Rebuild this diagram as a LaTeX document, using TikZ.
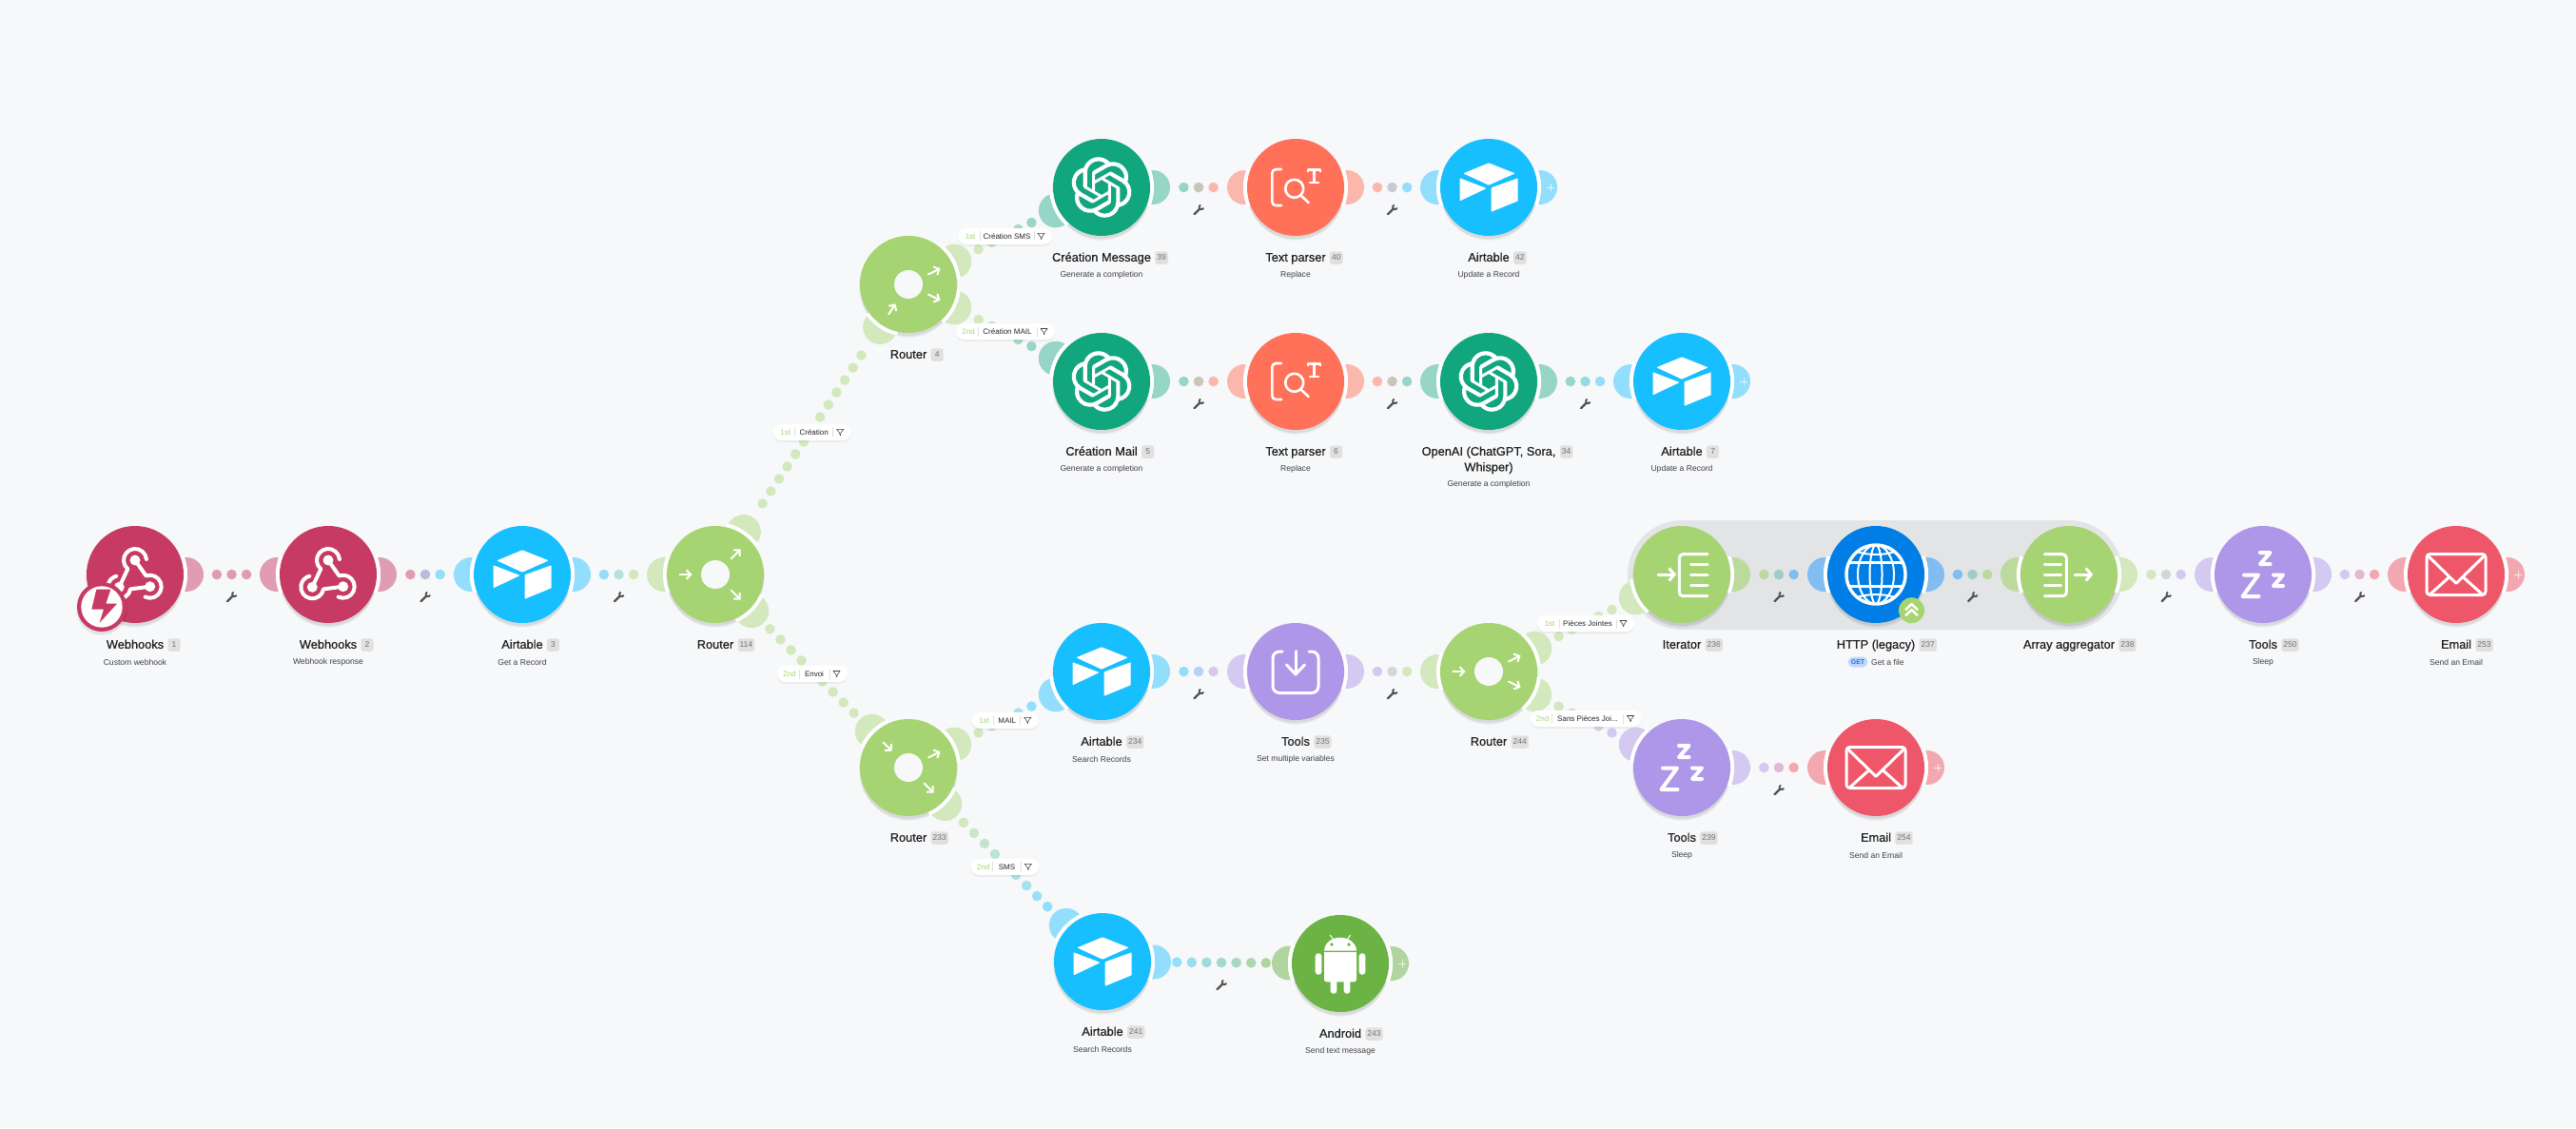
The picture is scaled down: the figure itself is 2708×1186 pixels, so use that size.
\documentclass[tikz,border=0pt]{standalone}
\usepackage{fontspec}
\setmainfont{Liberation Sans}
\newfontfamily\ttlfont[FakeBold=0.5]{Liberation Sans}
\usetikzlibrary{calc,arrows.meta,svg.path}
\definecolor{bgc}{HTML}{F7F8FA}
\definecolor{band}{HTML}{E2E4E6}
\definecolor{cWeb}{HTML}{C73A63}
\definecolor{cAir}{HTML}{18BFFF}
\definecolor{cFlow}{HTML}{A6D472}
\definecolor{cGpt}{HTML}{12A67F}
\definecolor{cPar}{HTML}{FF7158}
\definecolor{cTool}{HTML}{AE96E8}
\definecolor{cMail}{HTML}{EE5769}
\definecolor{cHttp}{HTML}{007EE5}
\definecolor{cDroid}{HTML}{6AB344}
\colorlet{lWeb}{cWeb!48!bgc}
\colorlet{lAir}{cAir!45!bgc}
\colorlet{lFlow}{cFlow!45!bgc}
\colorlet{bFlow}{cFlow!62!band}
\colorlet{lGpt}{cGpt!42!bgc}
\colorlet{lPar}{cPar!48!bgc}
\colorlet{lTool}{cTool!48!bgc}
\colorlet{lMail}{cMail!50!bgc}
\colorlet{lHttp}{cHttp!48!bgc}
\colorlet{lDroid}{cDroid!50!bgc}
\tikzset{
  modnode/.style={circle,minimum size=102pt,inner sep=0pt},
  ttlstyle/.style={inner sep=0pt,text height=9.5pt,text depth=2.7pt,text=black!88,font=\ttlfont\fontsize{12.8}{15}\selectfont},
  substyle/.style={inner sep=0pt,text=black!75,font=\fontsize{8.6}{10}\selectfont},
  bdg/.style={anchor=west,fill=black!12,text=black!55,rounded corners=2.5pt,minimum height=13.5pt,minimum width=13pt,inner xsep=2pt,inner ysep=0pt,font=\fontsize{8.5}{10}\selectfont},
  pill/.style={fill=white,rounded corners=8.5pt,minimum height=17pt,inner sep=0pt},
  ordtxt/.style={inner sep=0pt,text=cFlow,font=\fontsize{8}{10}\selectfont},
  flttxt/.style={inner sep=0pt,text=black!85,font=\fontsize{8}{10}\selectfont},
  sepline/.style={black!12,line width=.6pt},
  ico/.style={white,line width=3pt,line cap=round,line join=round},
  rarrow/.style={white,line width=2pt,line cap=round,-{Straight Barb[length=4.5pt,width=9.5pt,line width=2pt]}},
  iarrow/.style={white,line width=3pt,line cap=round,-{Straight Barb[length=5.5pt,width=13pt,line width=3pt]}},
}
% ---------- icons, in coordinates local to the module centre
\newcommand\icWeb{%
  \draw[ico,line width=4pt] (-16.7,13.3) -- ($(0,-15)+(130:12)$) arc[start angle=130,end angle=355,radius=12];
  \draw[ico,line width=4pt] (0,-15) -- ($(15.7,12.7)+(250:12)$) arc[start angle=250,end angle=475,radius=12];
  \draw[ico,line width=4pt] (15.7,12.7) -- ($(-16.7,13.3)+(10:12)$) arc[start angle=10,end angle=255,radius=12];
  \fill[white] (0,-15) circle (5.5) (15.7,12.7) circle (5.5) (-16.7,13.3) circle (5.5);}
\newcommand\icAir{%
  \fill[white,rounded corners=.8pt] (-26.7,-14.7) -- (0,-25.7) -- (27.7,-14.7) -- (0,-2.3) -- cycle;
  \fill[white,rounded corners=.6pt] (-30.3,-9.7) -- (-2.3,1) -- (-30.3,14.3) -- cycle;
  \fill[white,rounded corners=.6pt] (2.7,.3) -- (30.7,-9.7) -- (30.7,14.3) -- (2.7,25.7) -- cycle;}
\newcommand\icGpt{%
  \begin{scope}[scale=2.65,shift={(-12,-12)}]
  \fill[white,even odd rule] svg "M 22.2819 9.8211 a 5.9847 5.9847 0 0 0 -.5157 -4.9108 a 6.0462 6.0462 0 0 0 -6.5098 -2.9 A 6.0651 6.0651 0 0 0 4.9807 4.1818 a 5.9847 5.9847 0 0 0 -3.9977 2.9 a 6.0462 6.0462 0 0 0 .7427 7.0966 a 5.98 5.98 0 0 0 .511 4.9107 a 6.051 6.051 0 0 0 6.5146 2.9001 A 5.9847 5.9847 0 0 0 13.2599 24 a 6.0557 6.0557 0 0 0 5.7718 -4.2058 a 5.9894 5.9894 0 0 0 3.9977 -2.9001 a 6.0557 6.0557 0 0 0 -.7475 -7.0729 z M 13.2599 22.4292 a 4.4755 4.4755 0 0 1 -2.8764 -1.0408 l .1419 -.0804 l 4.7783 -2.7582 l .3927 -.6813 v -6.7369 l 2.02 1.1686 l .038 .052 v 5.5826 a 4.504 4.504 0 0 1 -4.4945 4.4944 z M 3.5992 18.3038 a 4.4708 4.4708 0 0 1 -.5346 -3.0137 l .142 .0852 l 4.783 2.7582 l .7806 0 l 5.8428 -3.3685 v 2.3324 l -.0332 .0615 L 9.74 19.9502 a 4.4992 4.4992 0 0 1 -6.1408 -1.6464 z M 2.3408 7.8956 a 4.485 4.485 0 0 1 2.3655 -1.9728 V 11.6 l .3879 .6765 l 5.8144 3.3543 l -2.0201 1.1685 l -.071 0 l -4.8303 -2.7865 A 4.504 4.504 0 0 1 2.3408 7.872 z M 18.9371 11.7514 L 13.1038 8.364 L 15.1192 7.2 l .071 0 l 4.8303 2.7913 a 4.4944 4.4944 0 0 1 -.6765 8.1042 v -5.6772 l -.407 -.667 z M 20.9478 8.7283 l -.142 -.0852 l -4.7735 -2.7818 l -.7854 0 L 9.409 9.2297 V 6.8974 l .0284 -.0615 l 4.8303 -2.7866 a 4.4992 4.4992 0 0 1 6.6802 4.66 z M 8.3065 12.863 l -2.02 -1.1638 l -.038 -.0567 V 6.0742 a 4.4992 4.4992 0 0 1 7.3757 -3.4537 l -.142 .0805 L 8.704 5.459 l -.3927 .6813 z M 9.4041 10.4976 l 2.602 -1.4998 l 2.6069 1.4998 v 2.9994 l -2.5974 1.4997 l -2.6067 -1.4997 z";
  \end{scope}}
\newcommand\icParse{%
  \draw[ico,line width=2.6pt,rounded corners=4pt] (-15,-19) -- (-24.7,-19) -- (-24.7,19) -- (-15,19);
  \draw[ico,line width=2.6pt] (-1.3,1.3) circle (9.5);
  \draw[ico,line width=2.6pt] (5.5,8.5) -- (13.6,16);
  \draw[ico,line width=2.6pt,line cap=butt] (13,-16) -- (13,-18.3) -- (26,-18.3) -- (26,-16);
  \draw[ico,line width=2.8pt,line cap=butt] (19.3,-18) -- (19.3,-5);
  \draw[ico,line width=2.6pt] (15,-5) -- (24,-5);}
\newcommand\icZzz{%
  \draw[ico,line width=4pt] (-3,-23) -- (7.5,-23) -- (-3,-11) -- (7.5,-11);
  \draw[ico,line width=4pt] (11,.5) -- (21,.5) -- (11,12) -- (21,12);
  \draw[ico,line width=4pt] (-20,.5) -- (-5,.5) -- (-21.5,23) -- (-4.5,23);}
\newcommand\icMail{%
  \draw[ico,line width=3pt,rounded corners=3.5pt] (-31,-21.5) rectangle (31,21.5);
  \draw[ico,line width=3pt] (-30,-20) -- (0,9.3) -- (30,-20);
  \draw[ico,line width=3pt] (-27,20.5) -- (-7.6,3);
  \draw[ico,line width=3pt] (27,20.5) -- (7.6,3);}
\newcommand\icIter{%
  \draw[iarrow] (-25,0) -- (-6,0);
  \draw[ico,rounded corners=4pt] (27,-21.3) -- (-2.7,-21.3) -- (-2.7,22.7) -- (27,22.7);
  \draw[ico] (9.5,-10.7) -- (27,-10.7) (9.5,0) -- (27,0) (9.5,11) -- (27,11);}
\newcommand\icAgg{%
  \draw[iarrow] (6,0) -- (25.3,0);
  \draw[ico,rounded corners=4pt] (-25.6,-21.3) -- (-2.7,-21.3) -- (-2.7,22.7) -- (-25.6,22.7);
  \draw[ico] (-25.6,-10.7) -- (-8.4,-10.7) (-25.6,0) -- (-8.4,0) (-25.6,11) -- (-8.4,11);}
\newcommand\icGlobe{%
  \draw[white,line width=3.4pt] (0,0) circle (31);
  \draw[white,line width=2pt] (0,0) ellipse (19 and 31);
  \draw[white,line width=2pt] (0,0) ellipse (6.5 and 31);
  \draw[white,line width=3pt] (-28.5,-12.5) -- (28.5,-12.5) (-28.5,12.5) -- (28.5,12.5);
  \draw[white,line width=2pt] (-20,-24) .. controls (-8,-20) and (8,-20) .. (20,-24);
  \draw[white,line width=2pt] (-20,24) .. controls (-8,20) and (8,20) .. (20,24);}
\newcommand\icDown{%
  \draw[ico,rounded corners=7pt] (-14,-21) -- (-24,-21) -- (-24,22.5) -- (24,22.5) -- (24,-21) -- (14,-21);
  \draw[ico] (0,-21.5) -- (0,2.5);
  \draw[ico] (-9.5,-7) -- (0,3) -- (9.5,-7);}
\newcommand\icDroid{%
  \fill[white] (-17,-13.3) arc[start angle=180,end angle=360,x radius=17,y radius=14] -- cycle;
  \fill[cDroid] (-9,-20) circle (1.9) (9,-20) circle (1.9);
  \fill[white,rounded corners=2.5pt] (-17,-11.7) rectangle (17,19.3);
  \fill[white] (-17,-11.7) rectangle (17,10);
  \fill[white,rounded corners=3pt] (-26.3,-10.7) rectangle (-19.7,11.7);
  \fill[white,rounded corners=3pt] (19.7,-10.7) rectangle (26.3,11.7);
  \fill[white,rounded corners=3pt] (-10.3,10) rectangle (-3.7,31.7);
  \fill[white,rounded corners=3pt] (3.7,10) rectangle (10.3,31.7);
  \draw[white,line width=1pt] (-7,-25) -- (-10.7,-30) (7,-25) -- (10.7,-30);}
\newcommand\RIn[1]{\draw[rarrow] (#1:37.5) -- (#1:24.5);}
\newcommand\ROut[1]{\draw[rarrow] (#1:23.5) -- (#1:37.5);}
\newcommand\RHole{\fill[bgc] (0,0) circle (15);}
% ---------- module: id x y colour icon title badge
\newcommand\MakeMod[7]{%
  \foreach \oy/\rd/\op in {2/52/.05,4/51/.04,6/50/.03}{\fill[black,opacity=\op] (#2,#3+\oy) circle (\rd);}
  \node[modnode,fill=#4] (#1) at (#2,#3) {};
  \begin{scope}[shift={(#1.center)}]#5\end{scope}
  \node[ttlstyle] (#1t) at (#2,#3+74.5) {#6};
  \node[bdg] (#1b) at ($(#1t.east)+(4,-.5)$) {#7};
}
\newcommand\Sub[2]{\node[substyle] (#1s) at ($(#1.center)+(0,92)$) {#2};}
% ---------- half-moon handle: module, angle, colour
\newcommand\Moon[3]{%
  \pgfmathsetmacro\ma{#2-96.4}\pgfmathsetmacro\mb{#2+96.4}%
  \pgfmathsetmacro\mc{#2+19}\pgfmathsetmacro\md{#2-19}%
  \fill[#3] ($(#1.center)+(\md:55)$) arc[start angle=\ma,end angle=\mb,radius=18] arc[start angle=\mc,end angle=\md,radius=55] -- cycle;
  \draw[white,line width=3.6pt] ($(#1.center)+(\md-2:53.2)$) arc[start angle=\md-2,end angle=\mc+2,radius=53.2];}
\newcommand\EndMoon[2]{\Moon{#1}{0}{#2}%
  \draw[white,opacity=.75,line width=.9pt] ($(#1.center)+(61,0)$) -- +(8,0) ($(#1.center)+(65,-4)$) -- +(0,8);}
% ---------- connector: from, to, light colours, number of dots, angle
\newcommand\Link[6]{%
  \foreach \i in {1,...,#5}{%
    \pgfmathsetmacro\off{(\i-(#5+1)/2)*15.6}%
    \pgfmathtruncatemacro\pct{100-100*(\i-1)/(#5-1)}%
    \fill[#3!\pct!#4] ($(#1.center)!.5!(#2.center)!\off pt!(#2.center)$) circle (5.3);}
  \Moon{#1}{#6}{#3}%
  \pgfmathsetmacro\back{#6+180}%
  \Moon{#2}{\back}{#4}}
\newcommand\Wrench[2]{%
  \coordinate (w#1#2) at ($(#1.center)!.5!(#2.center)+(0,23.7)$);
  \begin{scope}[shift={(w#1#2)},black!68]
    \draw[line width=2.2pt,line cap=round] (-4.5,4.5) -- (1.5,-1.5);
    \draw[line width=1.7pt] ($(2.9,-2.9)+(20:2.4)$) arc[start angle=20,end angle=250,radius=2.4];
  \end{scope}}
% ---------- filter pill: id x y width order text
\newcommand\Filt[6]{%
  \fill[black,opacity=.05,rounded corners=8.5pt] (#2-#4/2,#3-7.5) rectangle (#2+#4/2,#3+10.5);
  \node[pill,minimum width=#4 pt] (#1) at (#2,#3) {};
  \node[ordtxt] (#1o) at ($(#1.west)+(13.3,0)$) {#5};
  \node[flttxt] (#1x) at ($(#1.center)+(2,0)$) {#6};
  \draw[sepline] ($(#1.west)+(23,-5)$) -- +(0,10) ($(#1.east)+(-19.3,-5)$) -- +(0,10);
  \begin{scope}[shift={($(#1.east)+(-11.7,0)$)}]
    \draw[black!75,line width=.55pt,line join=round] (-3.6,-3) -- (3.6,-3) -- (.8,.6) -- (.2,3.4) -- (-.8,.6) -- cycle;
  \end{scope}}
\begin{document}
\begin{tikzpicture}[x=1pt,y=1pt,yscale=-1]
\fill[bgc] (0,0) rectangle (2708,1186);
\useasboundingbox (0,0) rectangle (2708,1186);
% group band
\fill[band,rounded corners=57pt] (1711,547) rectangle (2232,662);
% modules
\MakeMod{m1}{142}{604}{cWeb}{\icWeb}{Webhooks}{1}
\Sub{m1}{Custom webhook}
\MakeMod{m2}{345}{604}{cWeb}{\icWeb}{Webhooks}{2}
\Sub{m2}{Webhook response}
\MakeMod{m3}{549}{604}{cAir}{\icAir}{Airtable}{3}
\Sub{m3}{Get a Record}
\MakeMod{m114}{752}{604}{cFlow}{\RHole\RIn{180}\ROut{-45}\ROut{45}}{Router}{114}
\MakeMod{m4}{955}{299}{cFlow}{\RHole\RIn{123.6}\ROut{-26.7}\ROut{26.7}}{Router}{4}
\MakeMod{m39}{1158}{197}{cGpt}{\icGpt}{Création Message}{39}
\Sub{m39}{Generate a completion}
\MakeMod{m40}{1362}{197}{cPar}{\icParse}{Text parser}{40}
\Sub{m40}{Replace}
\MakeMod{m42}{1565}{197}{cAir}{\icAir}{Airtable}{42}
\Sub{m42}{Update a Record}
\MakeMod{m5}{1158}{401}{cGpt}{\icGpt}{Création Mail}{5}
\Sub{m5}{Generate a completion}
\MakeMod{m6}{1362}{401}{cPar}{\icParse}{Text parser}{6}
\Sub{m6}{Replace}
\MakeMod{m34}{1565}{401}{cGpt}{\icGpt}{OpenAI (ChatGPT, Sora,}{34}
\node[ttlstyle] (m34w) at (1565,492) {Whisper)};
\node[substyle] (m34s) at (1565,509) {Generate a completion};
\MakeMod{m7}{1768}{401}{cAir}{\icAir}{Airtable}{7}
\Sub{m7}{Update a Record}
\MakeMod{m233}{955}{807}{cFlow}{\RHole\RIn{225}\ROut{-26.7}\ROut{45}}{Router}{233}
\MakeMod{m234}{1158}{706}{cAir}{\icAir}{Airtable}{234}
\Sub{m234}{Search Records}
\MakeMod{m235}{1362}{706}{cTool}{\icDown}{Tools}{235}
\Sub{m235}{Set multiple variables}
\MakeMod{m244}{1565}{706}{cFlow}{\RHole\RIn{180}\ROut{-26.7}\ROut{26.7}}{Router}{244}
\MakeMod{m236}{1768}{604}{cFlow}{\icIter}{Iterator}{236}
\MakeMod{m237}{1972}{604}{cHttp}{\icGlobe}{HTTP (legacy)}{237}
\MakeMod{m238}{2175}{604}{cFlow}{\icAgg}{Array aggregator}{238}
\MakeMod{m250}{2379}{604}{cTool}{\icZzz}{Tools}{250}
\Sub{m250}{Sleep}
\MakeMod{m253}{2582}{604}{cMail}{\icMail}{Email}{253}
\Sub{m253}{Send an Email}
\MakeMod{m239}{1768}{807}{cTool}{\icZzz}{Tools}{239}
\Sub{m239}{Sleep}
\MakeMod{m254}{1972}{807}{cMail}{\icMail}{Email}{254}
\Sub{m254}{Send an Email}
\MakeMod{m241}{1159}{1011}{cAir}{\icAir}{Airtable}{241}
\Sub{m241}{Search Records}
\MakeMod{m243}{1409}{1013}{cDroid}{\icDroid}{Android}{243}
\Sub{m243}{Send text message}
% HTTP subtitle with method pill
\node[fill=blue!50!cAir!25!white,text=cHttp,rounded corners=5.5pt,minimum width=21pt,minimum height=11pt,inner sep=0pt,font=\bfseries\fontsize{7}{8}\selectfont] (m237g) at (1953,696) {GET};
\node[substyle,anchor=west] (m237s) at (1967,696) {Get a file};
% connectors
\Link{m1}{m2}{lWeb}{lWeb}{3}{0}\Wrench{m1}{m2}
\Link{m2}{m3}{lWeb}{lAir}{3}{0}\Wrench{m2}{m3}
\Link{m3}{m114}{lAir}{lFlow}{3}{0}\Wrench{m3}{m114}
\Link{m114}{m4}{lFlow}{lFlow}{13}{-56.4}
\Link{m114}{m233}{lFlow}{lFlow}{9}{45}
\Link{m4}{m39}{lFlow}{lGpt}{5}{-26.7}
\Link{m4}{m5}{lFlow}{lGpt}{5}{26.7}
\Link{m39}{m40}{lGpt}{lPar}{3}{0}\Wrench{m39}{m40}
\Link{m40}{m42}{lPar}{lAir}{3}{0}\Wrench{m40}{m42}
\EndMoon{m42}{lAir}
\Link{m5}{m6}{lGpt}{lPar}{3}{0}\Wrench{m5}{m6}
\Link{m6}{m34}{lPar}{lGpt}{3}{0}\Wrench{m6}{m34}
\Link{m34}{m7}{lGpt}{lAir}{3}{0}\Wrench{m34}{m7}
\EndMoon{m7}{lAir}
\Link{m233}{m234}{lFlow}{lAir}{5}{-26.7}
\Link{m233}{m241}{lFlow}{lAir}{9}{45}
\Link{m234}{m235}{lAir}{lTool}{3}{0}\Wrench{m234}{m235}
\Link{m235}{m244}{lTool}{lFlow}{3}{0}\Wrench{m235}{m244}
\Link{m244}{m236}{lFlow}{lFlow}{5}{-26.7}
\Link{m244}{m239}{lFlow}{lTool}{5}{26.7}
\Link{m236}{m237}{bFlow}{lHttp}{3}{0}\Wrench{m236}{m237}
\Link{m237}{m238}{lHttp}{bFlow}{3}{0}\Wrench{m237}{m238}
\Link{m238}{m250}{lFlow}{lTool}{3}{0}\Wrench{m238}{m250}
\Link{m250}{m253}{lTool}{lMail}{3}{0}\Wrench{m250}{m253}
\EndMoon{m253}{lMail}
\Link{m239}{m254}{lTool}{lMail}{3}{0}\Wrench{m239}{m254}
\EndMoon{m254}{lMail}
\Link{m241}{m243}{lAir}{lDroid}{7}{.5}\Wrench{m241}{m243}
\EndMoon{m243}{lDroid}
% filter pills
\Filt{f1}{853.7}{454.4}{82}{1st}{Création}
\Filt{f2}{854}{708.5}{74}{2nd}{Envoi}
\Filt{f3}{1056.5}{248.3}{99}{1st}{Création SMS}
\Filt{f4}{1057}{348.5}{104}{2nd}{Création MAIL}
\Filt{f5}{1056.7}{757.3}{70}{1st}{MAIL}
\Filt{f6}{1056.5}{911.3}{71.5}{2nd}{SMS}
\Filt{f7}{1667}{655.5}{102}{1st}{Pièces Jointes}
\Filt{f8}{1667}{755.5}{117}{2nd}{Sans Pièces Joi...}
% trigger badge
\foreach \oy/\rd/\op in {2/27/.05,4/26/.04}{\fill[black,opacity=\op] (107,638+\oy) circle (\rd);}
\node[circle,minimum size=52pt,inner sep=0pt,fill=cWeb] (trg) at (107,638) {};
\fill[white] (trg.center) circle (21.7);
\begin{scope}[shift={(trg.center)}]
  \fill[cWeb,rounded corners=.5pt] (-5.7,-18.3) -- (9.3,-18.3) -- (4.3,-3.3) -- (16,-3.3) -- (-2.3,16.7) -- (2,2.7) -- (-10.7,2.7) -- cycle;
\end{scope}
% HTTP repeat badge
\node[circle,minimum size=27pt,inner sep=0pt,fill=cFlow] (rep) at (2009.5,641.7) {};
\begin{scope}[shift={(rep.center)}]
  \draw[ico,line width=2.4pt,line cap=butt,line join=miter] (-6.5,-.5) -- (0,-6.5) -- (6.5,-.5);
  \draw[ico,line width=2.4pt,line cap=butt,line join=miter] (-6.5,5.5) -- (0,-.5) -- (6.5,5.5);
\end{scope}
\end{tikzpicture}
\end{document}
